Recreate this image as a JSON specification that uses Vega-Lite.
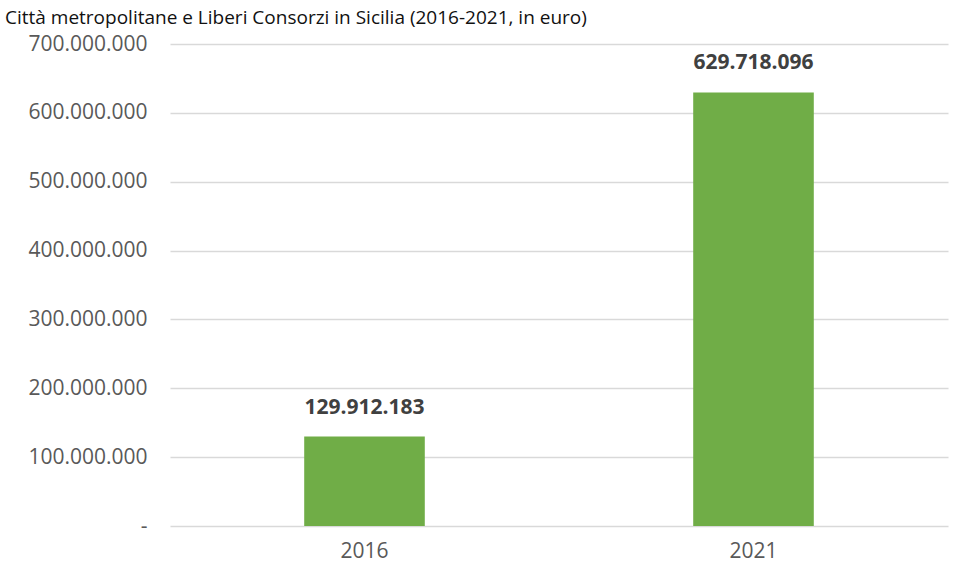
{
  "$schema": "https://vega.github.io/schema/vega-lite/v6.json",
  "width": 778,
  "height": 482,
  "autosize": {"type": "none"},
  "padding": {"left": 170, "top": 44, "right": 13, "bottom": 53},
  "background": "white",
  "config": {
    "view": {"stroke": null},
    "font": "Open Sans",
    "locale": {"number": {"decimal": ",", "thousands": ".", "grouping": [3], "currency": ["€", ""]}}
  },
  "title": {
    "text": "Città metropolitane e Liberi Consorzi in Sicilia (2016-2021, in euro)",
    "anchor": "start",
    "frame": "group",
    "font": "Open Sans",
    "fontSize": 19,
    "fontWeight": "normal",
    "color": "#111111",
    "baseline": "alphabetic",
    "offset": 0,
    "dx": -165,
    "dy": 10
  },
  "data": {
    "values": [
      {"anno": "2016", "valore": 129912183},
      {"anno": "2021", "valore": 629718096}
    ]
  },
  "encoding": {
    "x": {
      "field": "anno",
      "type": "ordinal",
      "title": null,
      "scale": {"paddingInner": 0.69, "paddingOuter": 0.345},
      "axis": {
        "domain": false,
        "ticks": false,
        "labelAngle": 0,
        "labelFontSize": 21,
        "labelColor": "#595959",
        "labelPadding": 14,
        "labelFont": "Open Sans"
      }
    },
    "y": {
      "field": "valore",
      "type": "quantitative",
      "title": null,
      "scale": {"domain": [0, 700000000]},
      "axis": {
        "values": [0, 100000000, 200000000, 300000000, 400000000, 500000000, 600000000, 700000000],
        "format": ",d",
        "labelExpr": "datum.value === 0 ? '-' : datum.label",
        "domain": false,
        "ticks": false,
        "grid": true,
        "gridColor": "#d9d9d9",
        "gridWidth": 1.5,
        "labelFontSize": 21,
        "labelColor": "#595959",
        "labelPadding": 23,
        "labelFont": "Open Sans"
      }
    }
  },
  "layer": [
    {"mark": {"type": "bar", "color": "#70AD47"}},
    {
      "mark": {"type": "text", "baseline": "bottom", "dy": -19, "fontSize": 21, "fontWeight": "bold", "color": "#404040", "font": "Open Sans"},
      "encoding": {"text": {"field": "valore", "type": "quantitative", "format": ",d"}}
    }
  ]
}
